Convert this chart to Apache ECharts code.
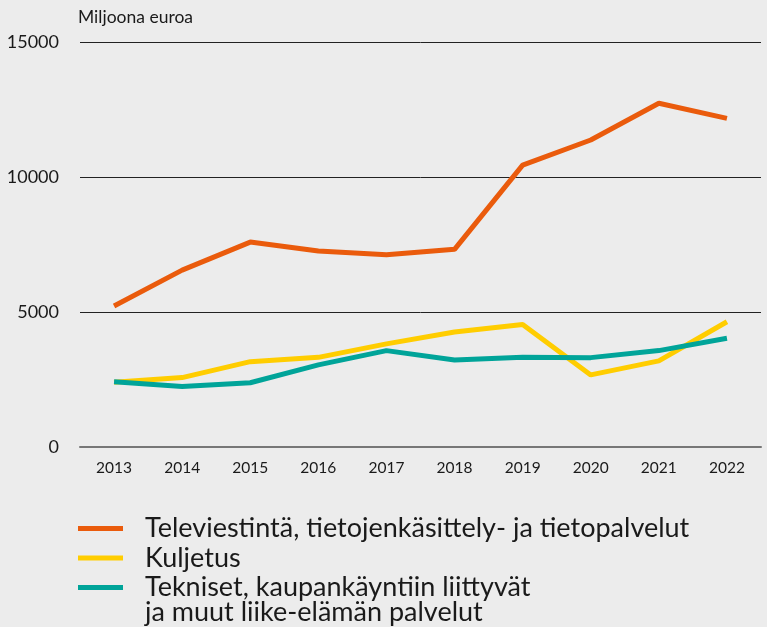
<!DOCTYPE html>
<html>
<head>
<meta charset="utf-8">
<script src="https://cdn.jsdelivr.net/npm/echarts@6/dist/echarts.min.js"></script>
<style>
  html, body { margin: 0; padding: 0; background: #ececec; }
  #chart { width: 767px; height: 627px; }
</style>
</head>
<body>
<div id="chart"></div>
<script>
const years = ['2013','2014','2015','2016','2017','2018','2019','2020','2021','2022'];
const tele = [5220, 6550, 7590, 7260, 7120, 7320, 10440, 11370, 12730, 12170];
const kuljetus = [2400, 2570, 3160, 3320, 3820, 4260, 4540, 2670, 3190, 4640];
const tekniset = [2420, 2240, 2380, 3040, 3570, 3220, 3320, 3310, 3570, 4030];
const yTicks = [0, 5000, 10000, 15000];
const names = [
  'Televiestintä, tietojenkäsittely- ja tietopalvelut',
  'Kuljetus',
  'Tekniset, kaupankäyntiin liittyvät\nja muut liike-elämän palvelut'
];
const FONT = 'Lato';
const LEG_SIZE = 27;
const chart = echarts.init(document.getElementById('chart'));
chart.setOption({
  backgroundColor: '#ececec',
  animation: false,
  textStyle: { fontFamily: FONT },
  grid: { left: 80, right: 6, top: 42, bottom: 180 },
  xAxis: {
    type: 'category',
    data: years,
    boundaryGap: true,
    axisLine: { lineStyle: { color: '#777', width: 2 } },
    axisTick: { show: false },
    axisLabel: { color: '#1a1a1a', fontSize: 15.5, margin: 13, fontFamily: FONT }
  },
  yAxis: {
    type: 'value',
    min: yTicks[0],
    max: yTicks[yTicks.length - 1],
    interval: 5000,
    name: 'Miljoona euroa',
    nameLocation: 'end',
    nameGap: 16,
    nameTextStyle: { align: 'left', color: '#1a1a1a', fontSize: 17.5, fontFamily: FONT, padding: [0, 0, 0, -2] },
    axisLine: { show: false },
    axisTick: { show: false },
    axisLabel: { color: '#1a1a1a', fontSize: 18, margin: 21, fontFamily: FONT, formatter: function (v) { return String(v); } },
    splitLine: { lineStyle: { color: '#222', width: 1 } }
  },
  legend: {
    orient: 'vertical',
    left: 78,
    top: 515,
    padding: 0,
    icon: 'rect',
    itemWidth: 45,
    itemHeight: 5,
    itemGap: 2.5,
    data: names,
    formatter: function (n) { return n.split('\n')[0]; },
    textStyle: { fontSize: LEG_SIZE, lineHeight: 27, color: '#1a1a1a', fontFamily: FONT, padding: [0, 0, 0, 17] }
  },
  graphic: [{
    type: 'text',
    left: 145,
    top: 599,
    style: { text: names[2].split('\n')[1], fontSize: LEG_SIZE, fontFamily: FONT, fill: '#1a1a1a' }
  }],
  series: [
    { name: names[0], type: 'line', data: tele, symbol: 'none', color: '#EA5B0C', lineStyle: { width: 5, color: '#EA5B0C' } },
    { name: names[1], type: 'line', data: kuljetus, symbol: 'none', color: '#FFCD00', lineStyle: { width: 5, color: '#FFCD00' } },
    { name: names[2], type: 'line', data: tekniset, symbol: 'none', color: '#00A499', lineStyle: { width: 5, color: '#00A499' } }
  ]
});
</script>
</body>
</html>
